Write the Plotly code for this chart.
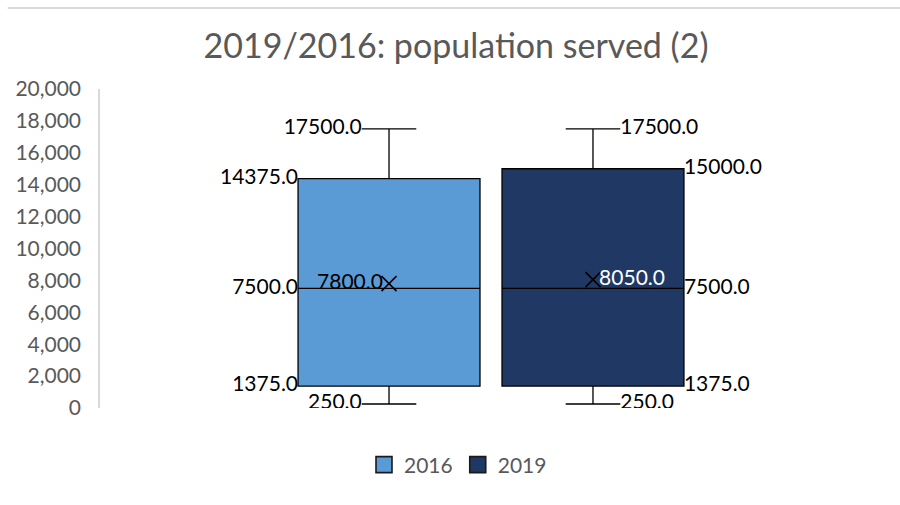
import plotly.graph_objects as go

series = ["2016", "2019"]
colors = ["#5B9BD5", "#203864"]
lower = [250.0, 250.0]
q1 = [1375.0, 1375.0]
median = [7500.0, 7500.0]
q3 = [14375.0, 15000.0]
upper = [17500.0, 17500.0]
mean = [7800.0, 8050.0]
yticks = [0, 2000, 4000, 6000, 8000, 10000, 12000, 14000, 16000, 18000, 20000]

BOXW = 0.892
CAPW = 0.3
FONT = "Lato"
LBL = dict(family=FONT, size=21, color="black")

fig = go.Figure()
for i, s in enumerate(series):
    fig.add_trace(go.Box(
        name=s, x=[i], q1=[q1[i]], median=[median[i]], q3=[q3[i]],
        lowerfence=[lower[i]], upperfence=[upper[i]],
        width=BOXW, whiskerwidth=CAPW, fillcolor=colors[i],
        line=dict(color="black", width=1.3), boxpoints=False,
        showlegend=False, hoverinfo="skip"))
    # legend proxy (square swatch like the original)
    fig.add_trace(go.Scatter(
        name=s, x=[None], y=[None], mode="markers",
        marker=dict(symbol="square", size=16, color=colors[i],
                    line=dict(color="#1a1a1a", width=1.6)),
        showlegend=True, hoverinfo="skip"))

# mean markers
fig.add_trace(go.Scatter(
    x=[0, 1], y=mean, mode="markers",
    marker=dict(symbol="x-thin-open", size=15, color="black",
                line=dict(color="black", width=1.6)),
    showlegend=False, hoverinfo="skip"))

hb = BOXW / 2
hc = BOXW * CAPW / 2
fmt = lambda v: f"{v:.1f}"

# 2016 labels (left side)
fig.add_trace(go.Scatter(
    x=[0 - hc, 0 - hb, 0 - hb, 0 - hb],
    y=[upper[0], q3[0], median[0], q1[0]],
    text=[fmt(upper[0]), fmt(q3[0]), fmt(median[0]), fmt(q1[0])],
    mode="text", textposition="middle left", textfont=LBL,
    showlegend=False, hoverinfo="skip"))
fig.add_trace(go.Scatter(
    x=[0 - hc], y=[lower[0]], text=[fmt(lower[0])],
    mode="text", textposition="middle left", textfont=LBL,
    showlegend=False, hoverinfo="skip"))
fig.add_trace(go.Scatter(
    x=[0 - 0.03], y=[mean[0]], text=[fmt(mean[0])],
    mode="text", textposition="middle left", textfont=LBL,
    showlegend=False, hoverinfo="skip"))
# 2019 labels (right side)
fig.add_trace(go.Scatter(
    x=[1 + hc, 1 + hb, 1 + hb, 1 + hb, 1 + hc],
    y=[upper[1], q3[1], median[1], q1[1], lower[1]],
    text=[fmt(upper[1]), fmt(q3[1]), fmt(median[1]), fmt(q1[1]), fmt(lower[1])],
    mode="text", textposition="middle right", textfont=LBL,
    showlegend=False, hoverinfo="skip"))
fig.add_trace(go.Scatter(
    x=[1 + 0.03], y=[mean[1]], text=[fmt(mean[1])],
    mode="text", textposition="middle right",
    textfont=dict(family=FONT, size=21, color="white"),
    showlegend=False, hoverinfo="skip"))

fig.update_layout(
    width=900, height=505,
    margin=dict(l=100, r=18, t=89, b=97),
    paper_bgcolor="white", plot_bgcolor="white",
    boxmode="overlay",
    title=dict(text="2019/2016: population served (2)", x=456/900, xref="container",
               xanchor="center", y=1 - 46/505, yanchor="middle",
               font=dict(family=FONT, size=34, color="#595959")),
    xaxis=dict(range=[-1.417, 2.417], showticklabels=False, showgrid=False,
               zeroline=False, showline=False, fixedrange=True),
    yaxis=dict(range=[0, 20000], tickvals=yticks, tickformat=",d",
               showgrid=False, zeroline=False, showline=True,
               linecolor="#D9D9D9", linewidth=1.5,
               tickfont=dict(family=FONT, size=21, color="#595959"),
               ticks="", ticklabelstandoff=13),
    legend=dict(orientation="h", x=458/900, xanchor="center", xref="container",
                y=1 - 465/505, yref="container", yanchor="middle",
                font=dict(family=FONT, size=21, color="#595959"),
                itemwidth=30, itemsizing="trace", traceorder="normal"),
    showlegend=True,
    shapes=[dict(type="line", xref="paper", yref="paper",
                 x0=-0.118, x1=1.03, y0=1.254, y1=1.254,
                 line=dict(color="#D9D9D9", width=2))],
)

fig.write_html("out.html")
